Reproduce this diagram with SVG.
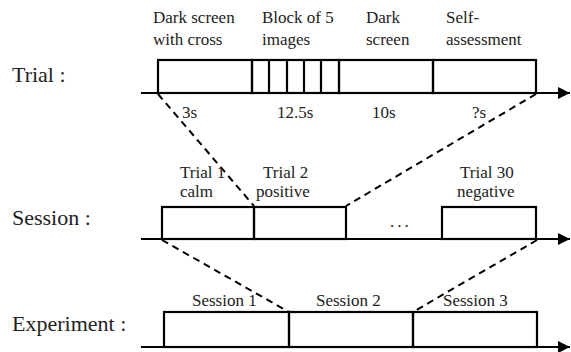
<svg xmlns="http://www.w3.org/2000/svg" width="571" height="352" viewBox="0 0 571 352">
<style>
.box{fill:none;stroke:#000;stroke-width:2.2}
.ax{stroke:#000;stroke-width:2.2;fill:none}
.dash{stroke:#000;stroke-width:2;stroke-dasharray:7,5;fill:none}
.big{font-family:"Liberation Serif","Times New Roman",serif;font-size:22px;fill:#222}
.lbl{font-family:"Liberation Serif","Times New Roman",serif;font-size:17px;fill:#222}
</style>
<defs>
<marker id="ah" markerWidth="12" markerHeight="12" refX="12" refY="6" orient="auto" markerUnits="userSpaceOnUse">
<path d="M0,0 L12,6 L0,12 Z" fill="#000"/>
</marker>
</defs>
<rect width="571" height="352" fill="#fff"/>
<g id="connectors">
<line class="ax" x1="141" y1="93" x2="570" y2="93" marker-end="url(#ah)"/>
<line class="ax" x1="141" y1="239" x2="570" y2="239" marker-end="url(#ah)"/>
<line class="ax" x1="141" y1="347" x2="570" y2="347" marker-end="url(#ah)"/>
<line class="dash" x1="158" y1="94" x2="254" y2="206"/>
<line class="dash" x1="536" y1="94" x2="346" y2="206"/>
<line class="dash" x1="162" y1="240" x2="289" y2="312"/>
<line class="dash" x1="537" y1="240" x2="413" y2="312"/>
</g>
<g id="trial-row">
<text class="big" x="12" y="82">Trial :</text>
<g id="t-dark-cross">
<rect class="box" x="158" y="60" width="94" height="33"/>
<text class="lbl" x="153" y="23">Dark screen</text>
<text class="lbl" x="153" y="45">with cross</text>
<text class="lbl" x="182" y="118">3s</text>
</g>
<g id="t-block">
<rect class="box" x="252" y="60" width="87" height="33"/>
<line class="box" x1="269" y1="60" x2="269" y2="93"/>
<line class="box" x1="287" y1="60" x2="287" y2="93"/>
<line class="box" x1="304" y1="60" x2="304" y2="93"/>
<line class="box" x1="321" y1="60" x2="321" y2="93"/>
<text class="lbl" x="262" y="23">Block of 5</text>
<text class="lbl" x="262" y="45">images</text>
<text class="lbl" x="277" y="118">12.5s</text>
</g>
<g id="t-dark">
<rect class="box" x="339" y="60" width="94" height="33"/>
<text class="lbl" x="366" y="23">Dark</text>
<text class="lbl" x="366" y="45">screen</text>
<text class="lbl" x="372" y="118">10s</text>
</g>
<g id="t-self">
<rect class="box" x="433" y="60" width="103" height="33"/>
<text class="lbl" x="446" y="23">Self-</text>
<text class="lbl" x="446" y="45">assessment</text>
<text class="lbl" x="472" y="118">?s</text>
</g>
</g>
<g id="session-row">
<text class="big" x="12" y="225">Session :</text>
<g id="s-trial1">
<rect class="box" x="162" y="207" width="92" height="32"/>
<text class="lbl" x="180" y="178">Trial 1</text>
<text class="lbl" x="180" y="197">calm</text>
</g>
<g id="s-trial2">
<rect class="box" x="254" y="207" width="92" height="32"/>
<text class="lbl" x="263" y="178">Trial 2</text>
<text class="lbl" x="256" y="197">positive</text>
</g>
<text class="lbl" x="390" y="227" letter-spacing="3">...</text>
<g id="s-trial30">
<rect class="box" x="442" y="207" width="94" height="32"/>
<text class="lbl" x="460" y="178">Trial 30</text>
<text class="lbl" x="457" y="197">negative</text>
</g>
</g>
<g id="experiment-row">
<text class="big" x="12" y="331">Experiment :</text>
<g id="e-s1">
<rect class="box" x="164" y="312" width="125" height="35"/>
<text class="lbl" x="192" y="306">Session 1</text>
</g>
<g id="e-s2">
<rect class="box" x="289" y="312" width="124" height="35"/>
<text class="lbl" x="316" y="306">Session 2</text>
</g>
<g id="e-s3">
<rect class="box" x="413" y="312" width="124" height="35"/>
<text class="lbl" x="443" y="306">Session 3</text>
</g>
</g>
</svg>
